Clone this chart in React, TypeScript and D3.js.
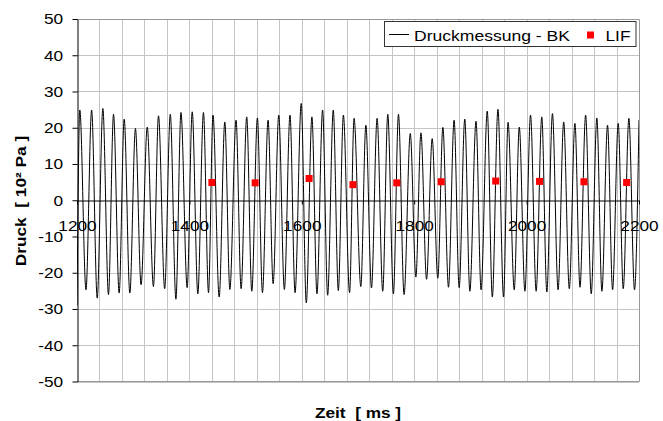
import React, { useEffect, useRef } from 'react';
import * as d3 from 'd3';

const WIDTH = 663;
const HEIGHT = 421;
const PLOT = { left: 77, right: 639, top: 19, bottom: 381.5 };

const peakTimes = [1205, 1226, 1246, 1265, 1284, 1304, 1325, 1345, 1366, 1385, 1405, 1425, 1442, 1463, 1483, 1502, 1521, 1540, 1559, 1579, 1599, 1618, 1637, 1656, 1674, 1693, 1714, 1734, 1753, 1772, 1793, 1812, 1832, 1851, 1871, 1890, 1910, 1930, 1949, 1967, 1987, 2007, 2027, 2046, 2066, 2086, 2105, 2125, 2144, 2163, 2182, 2200];
const peakValues = [24.9, 24.9, 25.3, 23.7, 22.4, 19.8, 20.2, 23.3, 23.7, 24.2, 24.4, 24.2, 23.5, 21.6, 22.1, 23.0, 22.7, 22.1, 23.5, 23.5, 26.7, 23.0, 24.9, 24.9, 23.5, 22.6, 20.7, 22.6, 23.7, 23.7, 18.4, 18.6, 17.0, 20.1, 22.1, 22.4, 21.8, 24.6, 25.1, 21.5, 20.2, 23.5, 23.0, 23.9, 21.6, 21.2, 23.5, 22.7, 20.7, 21.2, 22.6, 22.1];
const troughTimes = [1200, 1216, 1236, 1256, 1275, 1294, 1314, 1336, 1356, 1376, 1396, 1415, 1434, 1453, 1472, 1492, 1511, 1530, 1549, 1569, 1588, 1608, 1627, 1646, 1665, 1685, 1705, 1724, 1744, 1763, 1782, 1803, 1822, 1842, 1861, 1880, 1899, 1919, 1939, 1959, 1978, 1997, 2017, 2036, 2056, 2076, 2095, 2115, 2134, 2153, 2172, 2192];
const troughValues = [-29, -24.7, -27.0, -26.0, -25.6, -25.6, -23.3, -23.8, -24.4, -27.3, -24.1, -25.8, -25.5, -26.7, -24.6, -24.4, -25.1, -25.5, -23.0, -24.6, -25.5, -28.3, -25.8, -26.2, -24.9, -25.5, -23.8, -24.2, -25.1, -25.8, -26.0, -21.2, -21.8, -21.5, -24.0, -24.1, -25.1, -24.7, -26.7, -26.7, -24.7, -25.1, -25.1, -25.3, -24.7, -24.4, -24.0, -25.8, -25.1, -24.7, -24.4, -24.7];

// LIF measurements
const lifTimes = [1440, 1517, 1613, 1691, 1769, 1848, 1945, 2023, 2102, 2178];
const lifValues = [4.9, 4.8, 6.0, 4.3, 4.8, 5.1, 5.3, 5.2, 5.1, 4.9];

const xTicks = [1200, 1400, 1600, 1800, 2000, 2200];
const yTicks = [-50, -40, -30, -20, -10, 0, 10, 20, 30, 40, 50];
const xGridStep = 40;

const FONT = "'Liberation Sans', Arial, sans-serif";
const STRETCH = 'scale(1.15,1)';

export default function App() {
  const ref = useRef<SVGSVGElement>(null);

  useEffect(() => {
    if (!ref.current) return;
    const svg = d3.select(ref.current);
    svg.selectAll('*').remove();

    const x = d3.scaleLinear().domain([1200, 2200]).range([PLOT.left, PLOT.right]);
    const y = d3.scaleLinear().domain([-50, 50]).range([PLOT.bottom, PLOT.top]);

    // grid
    const grid = svg.append('g').attr('stroke', '#c4c4c4').attr('stroke-width', 1);
    grid
      .selectAll('line.v')
      .data(d3.range(1200 + xGridStep, 2200, xGridStep))
      .enter()
      .append('line')
      .attr('x1', (d) => Math.round(x(d)) + 0.5)
      .attr('x2', (d) => Math.round(x(d)) + 0.5)
      .attr('y1', PLOT.top)
      .attr('y2', PLOT.bottom);
    grid
      .selectAll('line.h')
      .data(yTicks.filter((d) => d !== 0))
      .enter()
      .append('line')
      .attr('x1', PLOT.left)
      .attr('x2', PLOT.right)
      .attr('y1', (d) => Math.round(y(d)) + 0.5)
      .attr('y2', (d) => Math.round(y(d)) + 0.5);

    // plot frame (top / right / bottom)
    svg
      .append('path')
      .attr('d', `M${PLOT.left},${PLOT.top + 0.5}H${PLOT.right + 0.5}V${PLOT.bottom}H${PLOT.left}`)
      .attr('fill', 'none')
      .attr('stroke', '#999');

    // pressure signal
    const pts: [number, number][] = [];
    peakTimes.forEach((t, i) => pts.push([t, peakValues[i]]));
    troughTimes.forEach((t, i) => pts.push([t, troughValues[i]]));
    pts.sort((a, b) => a[0] - b[0]);

    svg
      .append('clipPath')
      .attr('id', 'plotclip')
      .append('rect')
      .attr('x', PLOT.left)
      .attr('y', PLOT.top)
      .attr('width', PLOT.right - PLOT.left)
      .attr('height', PLOT.bottom - PLOT.top);

    const line = d3
      .line<[number, number]>()
      .x((d) => x(d[0]))
      .y((d) => y(d[1]))
      .curve(d3.curveMonotoneX);

    svg
      .append('path')
      .attr('clip-path', 'url(#plotclip)')
      .attr('d', line(pts)!)
      .attr('fill', 'none')
      .attr('stroke', '#000')
      .attr('stroke-width', 1);

    // y axis
    const yAxis = svg
      .append('g')
      .attr('transform', `translate(${PLOT.left + 0.5},0)`)
      .call(d3.axisLeft(y).tickValues(yTicks).tickSize(5).tickSizeOuter(0).tickPadding(7.5).tickFormat((d) => `${d}`));
    yAxis.select('.domain').attr('stroke', '#000');
    yAxis.selectAll('.tick line').attr('stroke', '#000');
    yAxis
      .selectAll('.tick text')
      .attr('fill', '#000')
      .attr('transform', STRETCH)
      .style('font-family', FONT)
      .style('font-size', '15px');

    // x axis at zero
    const xAxis = svg
      .append('g')
      .attr('transform', `translate(0,${Math.round(y(0)) + 0.5})`)
      .call(d3.axisBottom(x).tickValues(xTicks).tickSize(4).tickSizeOuter(0).tickPadding(16).tickFormat((d) => `${d}`));
    xAxis.select('.domain').attr('stroke', '#000');
    xAxis.selectAll('.tick line').attr('stroke', '#000');
    xAxis
      .selectAll('.tick text')
      .attr('fill', '#000')
      .attr('transform', STRETCH)
      .style('font-family', FONT)
      .style('font-size', '15px');

    // LIF markers
    svg
      .append('g')
      .selectAll('rect')
      .data(lifTimes)
      .enter()
      .append('rect')
      .attr('x', (d) => x(d) - 3.5)
      .attr('y', (d, i) => y(lifValues[i]) - 3.5)
      .attr('width', 7)
      .attr('height', 7)
      .attr('fill', '#ff0000');

    // axis titles
    svg
      .append('text')
      .attr('transform', `translate(${(PLOT.left + PLOT.right) / 2},418) ${STRETCH}`)
      .attr('text-anchor', 'middle')
      .style('font-family', FONT)
      .style('font-size', '15px')
      .style('font-weight', 'bold')
      .style('white-space', 'pre')
      .text('Zeit  [ ms ]');

    svg
      .append('text')
      .attr('transform', `translate(26,201) rotate(-90) ${STRETCH}`)
      .attr('text-anchor', 'middle')
      .style('font-family', FONT)
      .style('font-size', '15px')
      .style('font-weight', 'bold')
      .style('white-space', 'pre')
      .text('Druck  [ 10² Pa ]');

    // legend
    const lg = svg.append('g');
    lg.append('rect')
      .attr('x', 384.5)
      .attr('y', 21.5)
      .attr('width', 251.5)
      .attr('height', 25)
      .attr('fill', '#fff')
      .attr('stroke', '#333');
    lg.append('line')
      .attr('x1', 389)
      .attr('x2', 409)
      .attr('y1', 34.5)
      .attr('y2', 34.5)
      .attr('stroke', '#000');
    lg.append('text')
      .attr('transform', 'translate(414,40.5) scale(1.17,1)')
      .style('font-family', FONT)
      .style('font-size', '15px')
      .text('Druckmessung - BK');
    lg.append('rect')
      .attr('x', 587)
      .attr('y', 31.5)
      .attr('width', 7)
      .attr('height', 7)
      .attr('fill', '#ff0000');
    lg.append('text')
      .attr('transform', 'translate(605.5,40.5) scale(1.15,1)')
      .style('font-family', FONT)
      .style('font-size', '15px')
      .text('LIF');
  }, []);

  return (
    <svg
      ref={ref}
      width={WIDTH}
      height={HEIGHT}
      style={{ position: 'absolute', left: 0, top: 0, background: '#fff' }}
    />
  );
}
